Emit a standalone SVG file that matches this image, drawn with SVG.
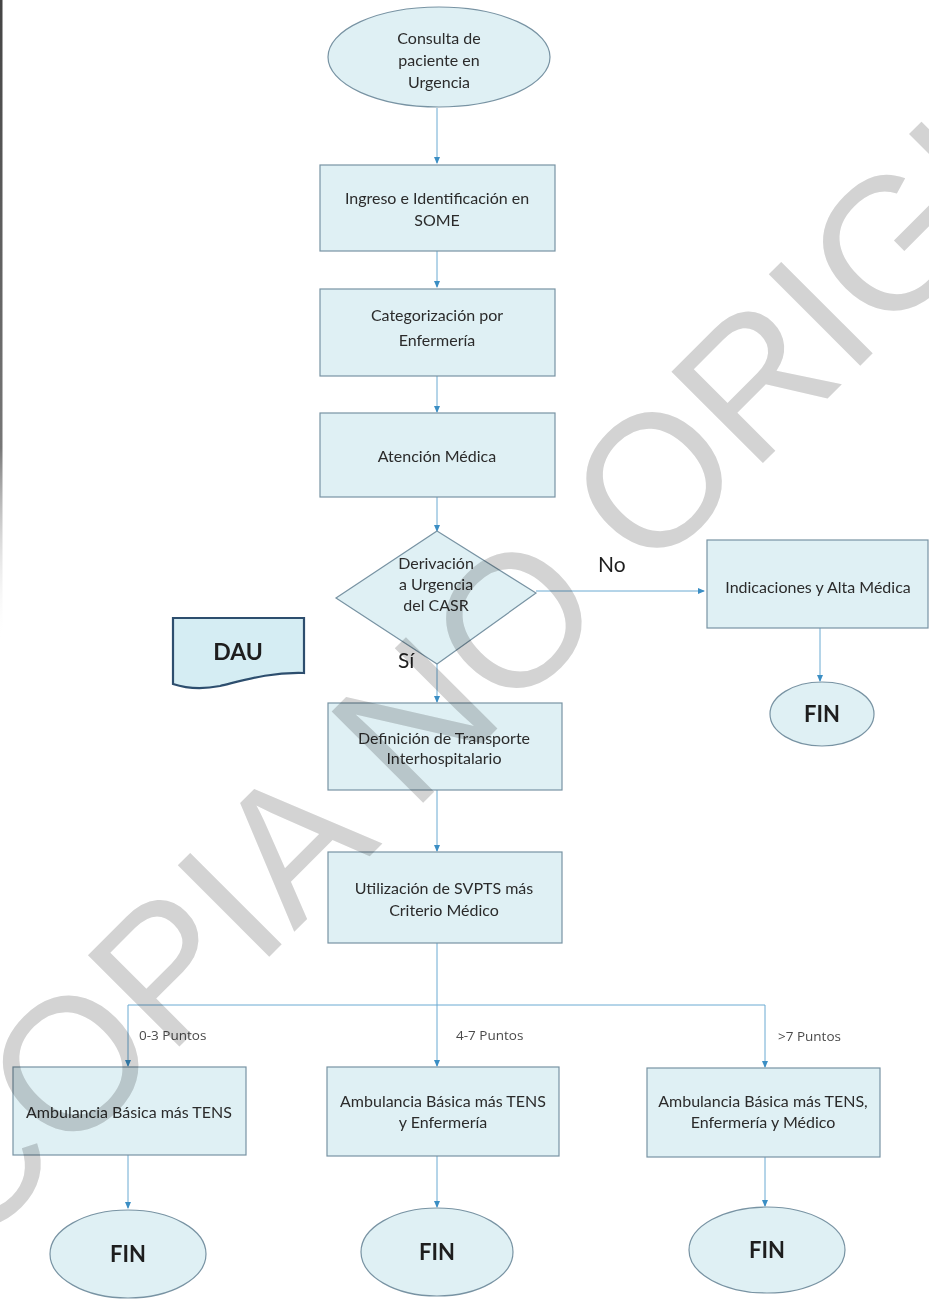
<svg xmlns="http://www.w3.org/2000/svg" width="929" height="1301" viewBox="0 0 929 1301">
<defs>
<marker id="arr" markerWidth="8" markerHeight="8" refX="6" refY="4" orient="auto" markerUnits="userSpaceOnUse">
<path d="M0,1 L7,4 L0,7 Z" fill="#3b8ec4"/>
</marker>
<linearGradient id="edge" x1="0" y1="0" x2="0" y2="1">
<stop offset="0" stop-color="#444"/>
<stop offset="0.7" stop-color="#777"/>
<stop offset="1" stop-color="#fff" stop-opacity="0"/>
</linearGradient>
</defs>
<style>
.n{fill:#dff0f4;stroke:#7893a3;stroke-width:1.2}
.t{font-family:Lato,"Open Sans","Liberation Sans",sans-serif;font-size:16px;fill:#2b2b2b;text-anchor:middle}
.big{font-family:Lato,"Open Sans","Liberation Sans",sans-serif;font-size:21px;fill:#1e1e1e}
.fin{font-family:Lato,"Open Sans","Liberation Sans",sans-serif;font-size:22px;font-weight:bold;fill:#1e1e1e;text-anchor:middle}
.lbl{font-family:"Open Sans","Liberation Sans",sans-serif;font-size:13.5px;fill:#4a4a4a}
.c{fill:none;stroke:#6aaad2;stroke-width:1}
.wm{font-family:"Liberation Sans",Arial,sans-serif;font-size:188px;fill:#d3d3d3;mix-blend-mode:multiply}
</style>
<rect width="929" height="1301" fill="#ffffff"/>
<rect x="0" y="0" width="2.5" height="640" fill="url(#edge)"/>

<g id="connectors">
<line class="c" x1="437" y1="108" x2="437" y2="163" marker-end="url(#arr)"/>
<line class="c" x1="437" y1="251" x2="437" y2="287" marker-end="url(#arr)"/>
<line class="c" x1="437" y1="376" x2="437" y2="412" marker-end="url(#arr)"/>
<line class="c" x1="437" y1="497" x2="437" y2="531" marker-end="url(#arr)"/>
<line class="c" x1="536" y1="591" x2="704" y2="591" marker-end="url(#arr)"/>
<line class="c" x1="820" y1="628" x2="820" y2="681" marker-end="url(#arr)"/>
<line class="c" x1="437" y1="664" x2="437" y2="702" marker-end="url(#arr)"/>
<line class="c" x1="437" y1="790" x2="437" y2="851" marker-end="url(#arr)"/>
<polyline class="c" points="437,943 437,1005"/>
<polyline class="c" points="128,1005 765,1005"/>
<line class="c" x1="128" y1="1005" x2="128" y2="1066" marker-end="url(#arr)"/>
<line class="c" x1="437" y1="1005" x2="437" y2="1066" marker-end="url(#arr)"/>
<line class="c" x1="765" y1="1005" x2="765" y2="1067" marker-end="url(#arr)"/>
<line class="c" x1="128" y1="1155" x2="128" y2="1208" marker-end="url(#arr)"/>
<line class="c" x1="437" y1="1156" x2="437" y2="1207" marker-end="url(#arr)"/>
<line class="c" x1="765" y1="1157" x2="765" y2="1206" marker-end="url(#arr)"/>
<text class="big" x="598" y="572">No</text>
<text class="big" x="398" y="668">Sí</text>
<text class="lbl" x="139" y="1040">0-3 Puntos</text>
<text class="lbl" x="456" y="1040">4-7 Puntos</text>
<text class="lbl" x="778" y="1041">&gt;7 Puntos</text>
</g>

<g id="start">
<ellipse class="n" cx="439" cy="57" rx="111" ry="50"/>
<text class="t" x="439" y="44">Consulta de</text>
<text class="t" x="439" y="66">paciente en</text>
<text class="t" x="439" y="88">Urgencia</text>
</g>

<g id="ingreso">
<rect class="n" x="320" y="165" width="235" height="86"/>
<text class="t" x="437" y="204">Ingreso e Identificación en</text>
<text class="t" x="437" y="226">SOME</text>
</g>

<g id="categorizacion">
<rect class="n" x="320" y="289" width="235" height="87"/>
<text class="t" x="437" y="321">Categorización por</text>
<text class="t" x="437" y="346">Enfermería</text>
</g>

<g id="atencion">
<rect class="n" x="320" y="413" width="235" height="84"/>
<text class="t" x="437" y="462">Atención Médica</text>
</g>

<g id="derivacion">
<polygon class="n" points="437,531 536,593 437,664 336,598"/>
<text class="t" x="436" y="569">Derivación</text>
<text class="t" x="436" y="590">a Urgencia</text>
<text class="t" x="436" y="611">del CASR</text>
</g>

<g id="indicaciones">
<rect class="n" x="707" y="540" width="221" height="88"/>
<text class="t" x="818" y="593">Indicaciones y Alta Médica</text>
</g>

<g id="fin-alta">
<ellipse class="n" cx="822" cy="714" rx="52" ry="32"/>
<text class="fin" x="822" y="722">FIN</text>
</g>

<g id="dau">
<path d="M173,618 L304,618 L304,673 C270,672 245,680 220,686 C200,690 185,688 173,684 Z" fill="#d5edf3" stroke="#2d4e6e" stroke-width="2.2"/>
<text class="fin" x="238" y="660" style="font-size:23px">DAU</text>
</g>

<g id="definicion">
<rect class="n" x="328" y="703" width="234" height="87"/>
<text class="t" x="444" y="744">Definición de Transporte</text>
<text class="t" x="444" y="764">Interhospitalario</text>
</g>

<g id="utilizacion">
<rect class="n" x="328" y="852" width="234" height="91"/>
<text class="t" x="444" y="894">Utilización de SVPTS más</text>
<text class="t" x="444" y="916">Criterio Médico</text>
</g>

<g id="amb-tens">
<rect class="n" x="13" y="1067" width="233" height="88"/>
<text class="t" x="129" y="1118">Ambulancia Básica más TENS</text>
</g>

<g id="amb-enf">
<rect class="n" x="327" y="1067" width="232" height="89"/>
<text class="t" x="443" y="1107">Ambulancia Básica más TENS</text>
<text class="t" x="443" y="1128">y Enfermería</text>
</g>

<g id="amb-med">
<rect class="n" x="647" y="1068" width="233" height="89"/>
<text class="t" x="763" y="1107">Ambulancia Básica más TENS,</text>
<text class="t" x="763" y="1128">Enfermería y Médico</text>
</g>

<g id="fin-1">
<ellipse class="n" cx="128" cy="1254" rx="78" ry="44"/>
<text class="fin" x="128" y="1262">FIN</text>
</g>
<g id="fin-2">
<ellipse class="n" cx="437" cy="1252" rx="76" ry="44"/>
<text class="fin" x="437" y="1260">FIN</text>
</g>
<g id="fin-3">
<ellipse class="n" cx="767" cy="1250" rx="78" ry="43"/>
<text class="fin" x="767" y="1258">FIN</text>
</g>

<g id="watermark">
<text class="wm" x="-31" y="1257" transform="rotate(-45 -31 1257)">COPIA NO ORIGINAL</text>
</g>
</svg>
